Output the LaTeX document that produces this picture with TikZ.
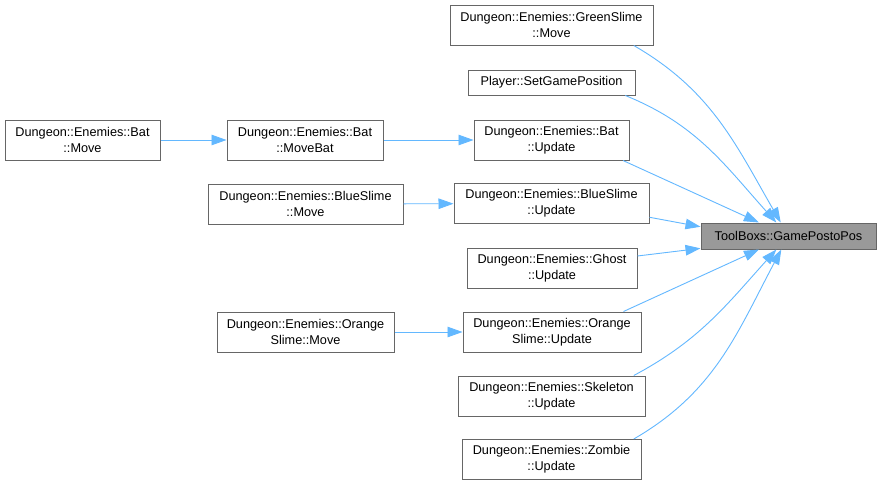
\documentclass[tikz,border=0pt]{standalone}
\usepackage{fontspec}
\setmainfont{Liberation Sans}
\usetikzlibrary{arrows.meta}
\definecolor{callblue}{HTML}{63B8FF}
\definecolor{boxgray}{HTML}{666666}
\definecolor{hitgray}{HTML}{999999}

\begin{document}
\begin{tikzpicture}[x=1pt, y=1pt,
  fn/.style={draw=boxgray, line width=1pt, fill=white, minimum height=40pt,
    inner sep=0pt, align=center, font=\fontsize{12.7}{16}\selectfont},
  callarrow/.style={draw=callblue, line width=0.9pt,
    -{Triangle[length=15pt, width=10.5pt]}, color=callblue}]
% 1 unit = 1 px of the graph
\fill[white] (0,0) rectangle (881,-485);
\useasboundingbox (0,0) rectangle (881,-485);

%% the called function
\node[fn, fill=hitgray, minimum width=175pt, minimum height=26pt] (gpos) at (788.5,-236) {ToolBoxs::GamePostoPos};

%% direct callers
\node[fn, minimum width=203pt] (gsmove) at (551.5,-25) {Dungeon::Enemies::GreenSlime\\::Move};
\node[fn, minimum width=167pt, minimum height=25pt] (setpos) at (551.5,-82.5) {Player::SetGamePosition};
\node[fn, minimum width=155pt] (batupd) at (551.5,-140) {Dungeon::Enemies::Bat\\::Update};
\node[fn, minimum width=195pt] (blueupd) at (551.5,-203.5) {Dungeon::Enemies::BlueSlime\\::Update};
\node[fn, minimum width=170pt] (ghostupd) at (552,-268) {Dungeon::Enemies::Ghost\\::Update};
\node[fn, minimum width=178pt] (orangeupd) at (552,-332) {Dungeon::Enemies::Orange\\Slime::Update};
\node[fn, minimum width=187pt] (skelupd) at (551.5,-396) {Dungeon::Enemies::Skeleton\\::Update};
\node[fn, minimum width=179pt] (zombieupd) at (551.5,-459.5) {Dungeon::Enemies::Zombie\\::Update};

%% second and third level
\node[fn, minimum width=156pt] (movebat) at (305,-140) {Dungeon::Enemies::Bat\\::MoveBat};
\node[fn, minimum width=155pt] (batmove) at (82.5,-140) {Dungeon::Enemies::Bat\\::Move};
\node[fn, minimum width=195pt] (bluemove) at (305.5,-204) {Dungeon::Enemies::BlueSlime\\::Move};
\node[fn, minimum width=177pt] (orangemove) at (305.5,-332) {Dungeon::Enemies::Orange\\Slime::Move};

%% calls
\draw[callarrow] (batmove) -- (movebat);
\draw[callarrow] (movebat) -- (batupd);
\draw[callarrow] (bluemove) -- (blueupd);
\draw[callarrow] (orangemove) -- (orangeupd);

\draw[callarrow] (gsmove.-14) to[out=-30, in=120] (gpos);
\draw[callarrow] (setpos.-10) to[out=-22, in=132] (gpos);
\draw[callarrow] (batupd.-16) -- (gpos);
\draw[callarrow] (blueupd.-8) -- (gpos.174);
\draw[callarrow] (ghostupd.8) -- (gpos.188);
\draw[callarrow] (orangeupd.16) -- (gpos);
\draw[callarrow] (skelupd.14) to[out=28, in=-132] (gpos);
\draw[callarrow] (zombieupd.14) to[out=30, in=-118] (gpos);

\end{tikzpicture}
\end{document}
